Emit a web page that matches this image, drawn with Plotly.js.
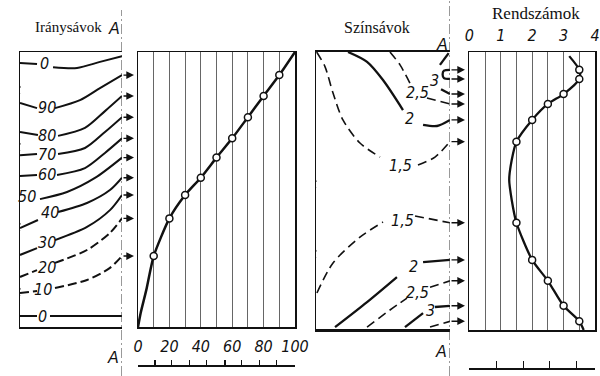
<!DOCTYPE html>
<html><head><meta charset="utf-8">
<script src="https://cdn.plot.ly/plotly-3.0.1.min.js"></script>
<style>html,body{margin:0;padding:0;background:#fff}#chart{width:600px;height:376px}</style>
</head><body><div id="chart"></div>
<script>
// ---- Panel 2: Iránysávok -> cumulative curve ----
const szazalek = [0,10,20,30,40,50,60,70,80,90,100];
const szazalekFelirat = ['0','','20','','40','','60','','80','','100'];
const kumulalt = [0,25.8,39.5,48,54.3,61.6,68.6,76.3,84,91.6,100];
const gorbeX = [0,1.7,5.3,10,20,30,40,50,60,70,80,90,100];
const gorbeY = [0,5.1,13.5,25.8,39.5,48,54.3,61.6,68.6,76.3,84,91.6,100];
const vonalzo2 = [0,10.8,21.5,32.7,43.8,55.4,66.1,77.3,88.3,99.4];

// ---- Panel 1: Iránysávok contour lines ----
const iranySzintek = ['0','90','80','70','60','50','40','30','20','10','0'];
const iranyX = [
  [0,16.7,null,32.4,55.9,78.4,100],
  [0,16.7,null,34.3,58.8,78.4,100],
  [0,17.6,null,37.3,63.7,83.3,100],
  [0,16.7,null,37.3,63.7,83.3,100],
  [0,16.7,null,36.3,63.7,83.3,100],
  [19.6,46.1,73.5,100],
  [0,17.6,null,37.3,65.7,88.2,100],
  [0,16.7,null,34.3,65.7,88.2,100],
  [0,16.7,null,34.3,65.7,88.2,100],
  [0,16.7,null,34.3,65.7,88.2,100],
  [0,16.7,null,29.4,100]
];
const iranyY = [
  [96,95.6,null,94.5,94.2,96.4,98.5],
  [81.5,79.6,null,79.6,82.5,86.9,91.6],
  [70.9,69.8,null,69.5,72.4,78.5,84],
  [62.5,62.9,null,62.9,65.1,70.9,76.3],
  [54.9,55.3,null,55.3,57.8,63.3,68.6],
  [46.5,49.1,54.2,61.6],
  [36,38.9,null,41.8,45.1,49.8,54.3],
  [26.2,28.7,null,31.6,36.4,42.5,48],
  [18.2,20.7,null,23.3,28,34.2,39.5],
  [12.4,13.1,null,14.2,17.1,21.5,25.8],
  [4,4,null,4,4]
];
const iranyStilus = ['solid','solid','solid','solid','solid','solid','solid','solid','dash','dash','solid'];
const iranyCimkeX = [24.5,26.5,26.5,26.5,26.5,6.9,29.4,26.5,26.5,22.5,22.5];
const iranyCimkeY = [96,80,69.8,62.9,55.3,47.3,41.8,30.9,21.8,13.5,4];
const iranyToresek = [86.9,66.2,37.1,13.5];

// ---- Panel 3: Színsávok contour lines ----
const szinSzintek = ['1,5','2','2,5','3','','1,5','2','2,5','3',''];
const szinX = [
  [0.5,6.7,12.7,20.1,32.8,47.8,null,76.1,88.8,100],
  [23.9,38.1,50,64.9,null,79.9,90.3,100],
  [55.2,62.7,70.1,null,82.8,100],
  [99,92.5,null,93.3,100],
  [100,95.5,94.5,95.5,100],
  [0.7,12.7,32.8,50,null,73.9,100],
  [14.2,38.1,60.4,null,79.9,100],
  [38.1,55.2,67.9,null,85.1,100],
  [66.4,79.9,null,88.8,100],
  [85.1,100]
];
const szinY = [
  [100,94.7,85.1,75.3,66.9,61.8,null,58.9,61.8,67.4],
  [100,96.4,89.8,78.9,null,73.5,73.1,75.3],
  [100,95.3,88.7,null,83.3,81.1],
  [99.6,95.3,null,86.5,84.7],
  [93.5,93.2,91.9,90.5,90.2],
  [12.4,23.3,32.7,38.2,null,40.4,37.9],
  [0,9.1,18.2,null,23.6,24.4],
  [0,6.2,10.5,null,14.5,16.8],
  [0,5.1,null,7.3,7.7],
  [0,2.1]
];
const szinStilus = ['dash','solid','dash','solid','solid','dash','solid','dash','solid','dash'];
const szinCimkeX = [62.7,70.1,76.1,88.8,null,64.9,72.4,75.4,85.8,null];
const szinCimkeY = [58.9,76,85.1,89.8,null,38.9,22.2,12.7,6.2,null];
const szinToresek = [52.7,27.3];

// ---- Panel 4: Rendszámok ----
const rendX = [3.18,3.5,3.5,3,2.5,2,1.5,1.35,1.27,1.35,1.5,2,2.5,3,3.5,3.64];
const rendY = [98.5,93.5,90.2,84.7,81.1,75.3,67.4,60.7,53.5,46.2,37.9,24.4,16.8,7.7,2.1,-1.1];
const korX = [3.5,3.5,3,2.5,2,1.5,1.5,2,2.5,3,3.5];
const korY = [93.5,90.2,84.7,81.1,75.3,67.4,37.9,24.4,16.8,7.7,2.1];
const rendTick = [0,0.5,1,1.5,2,2.5,3,3.5,4];
const rendFelirat = ['0','','1','','2','','3','','4'];
const vonalzo4 = [0,0.87,1.72,2.55,3.4];

const FEK = '#111';
const numFont = {family:'Liberation Sans Narrow, DejaVu Sans Condensed, sans-serif', size:16, color:FEK, style:'italic'};
const serifFont = {family:'Liberation Serif, DejaVu Serif, serif', size:17, color:FEK};

const traces = [];
iranyX.forEach((xs,i)=>{
  traces.push({type:'scatter', mode:'lines', x:xs, y:iranyY[i], xaxis:'x', yaxis:'y',
    line:{color:FEK, width:2, shape:'spline', smoothing:0.8, dash: iranyStilus[i]==='dash' ? '9px,4px' : 'solid'},
    hoverinfo:'skip', showlegend:false});
});
traces.push({type:'scatter', mode:'lines', x:gorbeX, y:gorbeY, xaxis:'x2', yaxis:'y2',
  line:{color:FEK, width:2.5, shape:'spline', smoothing:0.6}, showlegend:false, hoverinfo:'skip'});
traces.push({type:'scatter', mode:'markers', x:szazalek.slice(1,10), y:kumulalt.slice(1,10), xaxis:'x2', yaxis:'y2',
  marker:{symbol:'circle', size:7, color:'#fff', line:{color:FEK, width:1.5}}, showlegend:false, hoverinfo:'skip'});
szinX.forEach((xs,i)=>{
  traces.push({type:'scatter', mode:'lines', x:xs, y:szinY[i], xaxis:'x3', yaxis:'y3',
    line:{color:FEK, width: szinStilus[i]==='dash' ? 1.6 : 2.3, shape:'spline', smoothing:0.8, dash: szinStilus[i]==='dash' ? '9px,5px' : 'solid'},
    hoverinfo:'skip', showlegend:false});
});
traces.push({type:'scatter', mode:'lines', x:rendX, y:rendY, xaxis:'x4', yaxis:'y4',
  line:{color:FEK, width:2.3, shape:'spline', smoothing:0.7}, showlegend:false, hoverinfo:'skip'});
traces.push({type:'scatter', mode:'markers', x:korX, y:korY, xaxis:'x4', yaxis:'y4',
  marker:{symbol:'circle', size:7, color:'#fff', line:{color:FEK, width:1.5}}, showlegend:false, hoverinfo:'skip'});
// ruler axes (no marks)
traces.push({type:'scatter', mode:'lines', x:[], y:[], xaxis:'x5', yaxis:'y2', showlegend:false, hoverinfo:'skip'});
traces.push({type:'scatter', mode:'lines', x:[], y:[], xaxis:'x6', yaxis:'y4', showlegend:false, hoverinfo:'skip'});

const yDom = [49/376, 324/376];
const frame = {showgrid:false, zeroline:false, showticklabels:false, ticks:'', showline:true, linecolor:FEK, linewidth:1.5};

const annotations = [];
const addText = (text, x, y, xref, yref, font, xanchor) => annotations.push({text, x, y, xref, yref, showarrow:false, font, xanchor: xanchor || 'center', yanchor:'middle'});
addText('Iránysávok', 104/600, 0.928, 'paper', 'paper', Object.assign({}, serifFont, {size:15}), 'right');
addText('Színsávok', 0.628, 0.928, 'paper', 'paper', Object.assign({}, serifFont, {size:16}));
addText('Rendszámok', 0.893, 0.965, 'paper', 'paper', serifFont);
const aFont = {family:'Liberation Sans, DejaVu Sans, sans-serif', size:16, color:FEK, style:'italic'};
addText('A', 114/600, 1-28/376, 'paper', 'paper', aFont);
addText('A', 113/600, 1-357/376, 'paper', 'paper', aFont);
addText('A', 442/600, 1-44/376, 'paper', 'paper', aFont);
addText('A', 441/600, 1-351/376, 'paper', 'paper', aFont);
iranySzintek.forEach((t,i)=> addText(t, iranyCimkeX[i], iranyCimkeY[i], 'x', 'y', numFont));
szinSzintek.forEach((t,i)=>{ if(t) addText(t, szinCimkeX[i], szinCimkeY[i], 'x3', 'y3', numFont); });
for(let i=1;i<=9;i++){
  annotations.push({text:'', xref:'paper', yref:'y2', x:134/600, y:kumulalt[i], ax:-12, ay:0,
    showarrow:true, arrowhead:2, arrowsize:1.1, arrowwidth:1.4, arrowcolor:FEK});
}
korY.forEach(v=>{
  annotations.push({text:'', xref:'paper', yref:'y4', x:465/600, y:v, ax:-15, ay:0,
    showarrow:true, arrowhead:2, arrowsize:1.1, arrowwidth:1.4, arrowcolor:FEK});
});

const dashdot = {color:'#333', width:1, dash:'10px,3px,2px,3px'};
const shapes = [
  {type:'line', xref:'x', yref:'paper', x0:100, x1:100, y0:0, y1:1-10/376, line:dashdot},
  {type:'line', xref:'x3', yref:'paper', x0:100, x1:100, y0:0, y1:1, line:dashdot}
];
const toresPath = 'M0,-6 L-6,-1 L0,1 L-3,6';
iranyToresek.forEach(v=> shapes.push({type:'path', xref:'x', yref:'y', xsizemode:'pixel', ysizemode:'pixel',
  xanchor:0, yanchor:v, path:toresPath, line:{color:FEK, width:1.2}}));
szinToresek.forEach(v=> shapes.push({type:'path', xref:'x3', yref:'y3', xsizemode:'pixel', ysizemode:'pixel',
  xanchor:0, yanchor:v, path:toresPath, line:{color:FEK, width:1.2}}));

const layout = {
  width:600, height:376, margin:{l:0,r:0,t:0,b:0},
  paper_bgcolor:'#fff', plot_bgcolor:'rgba(0,0,0,0)', showlegend:false,
  xaxis: Object.assign({}, frame, {domain:[20/600,122/600], range:[0,100], mirror:true, anchor:'y'}),
  yaxis: Object.assign({}, frame, {domain:yDom, range:[0,100], anchor:'x'}),
  xaxis2: Object.assign({}, frame, {domain:[138/600,295/600], range:[0,100], mirror:true, anchor:'y2',
    tickvals:szazalek, ticktext:szazalekFelirat, showticklabels:true, tickfont:numFont,
    showgrid:true, gridcolor:'#666', gridwidth:1, ticklabelstandoff:4}),
  yaxis2: Object.assign({}, frame, {domain:yDom, range:[0,100], mirror:true, anchor:'x2'}),
  xaxis3: Object.assign({}, frame, {domain:[316/600,450/600], range:[0,100], mirror:true, linewidth:2.5, anchor:'y3'}),
  yaxis3: Object.assign({}, frame, {domain:[47/376,324/376], range:[-0.7,100], anchor:'x3'}),
  xaxis4: Object.assign({}, frame, {domain:[469.3/600,595/600], range:[0,4], mirror:true, anchor:'y4', side:'top',
    tickvals:rendTick, ticktext:rendFelirat, showticklabels:true, tickfont:numFont,
    showgrid:true, gridcolor:'#666', gridwidth:1, ticklabelstandoff:3}),
  yaxis4: Object.assign({}, frame, {domain:[46/376,324/376], range:[-1.1,100], mirror:true, anchor:'x4'}),
  xaxis5: {overlaying:'x2', anchor:'free', position:11/376, range:[0,100], tickvals:vonalzo2,
    ticks:'inside', ticklen:5, tickwidth:1.3, tickcolor:FEK, showline:true, linecolor:FEK, linewidth:1.5,
    showgrid:false, zeroline:false, showticklabels:false},
  xaxis6: {overlaying:'x4', anchor:'free', position:8/376, range:[0,4], tickvals:vonalzo4,
    ticks:'inside', ticklen:7, tickwidth:1.3, tickcolor:FEK, showline:true, linecolor:FEK, linewidth:1.5,
    showgrid:false, zeroline:false, showticklabels:false},
  annotations, shapes
};
Plotly.newPlot('chart', traces, layout, {staticPlot:true, displayModeBar:false});
</script></body></html>
